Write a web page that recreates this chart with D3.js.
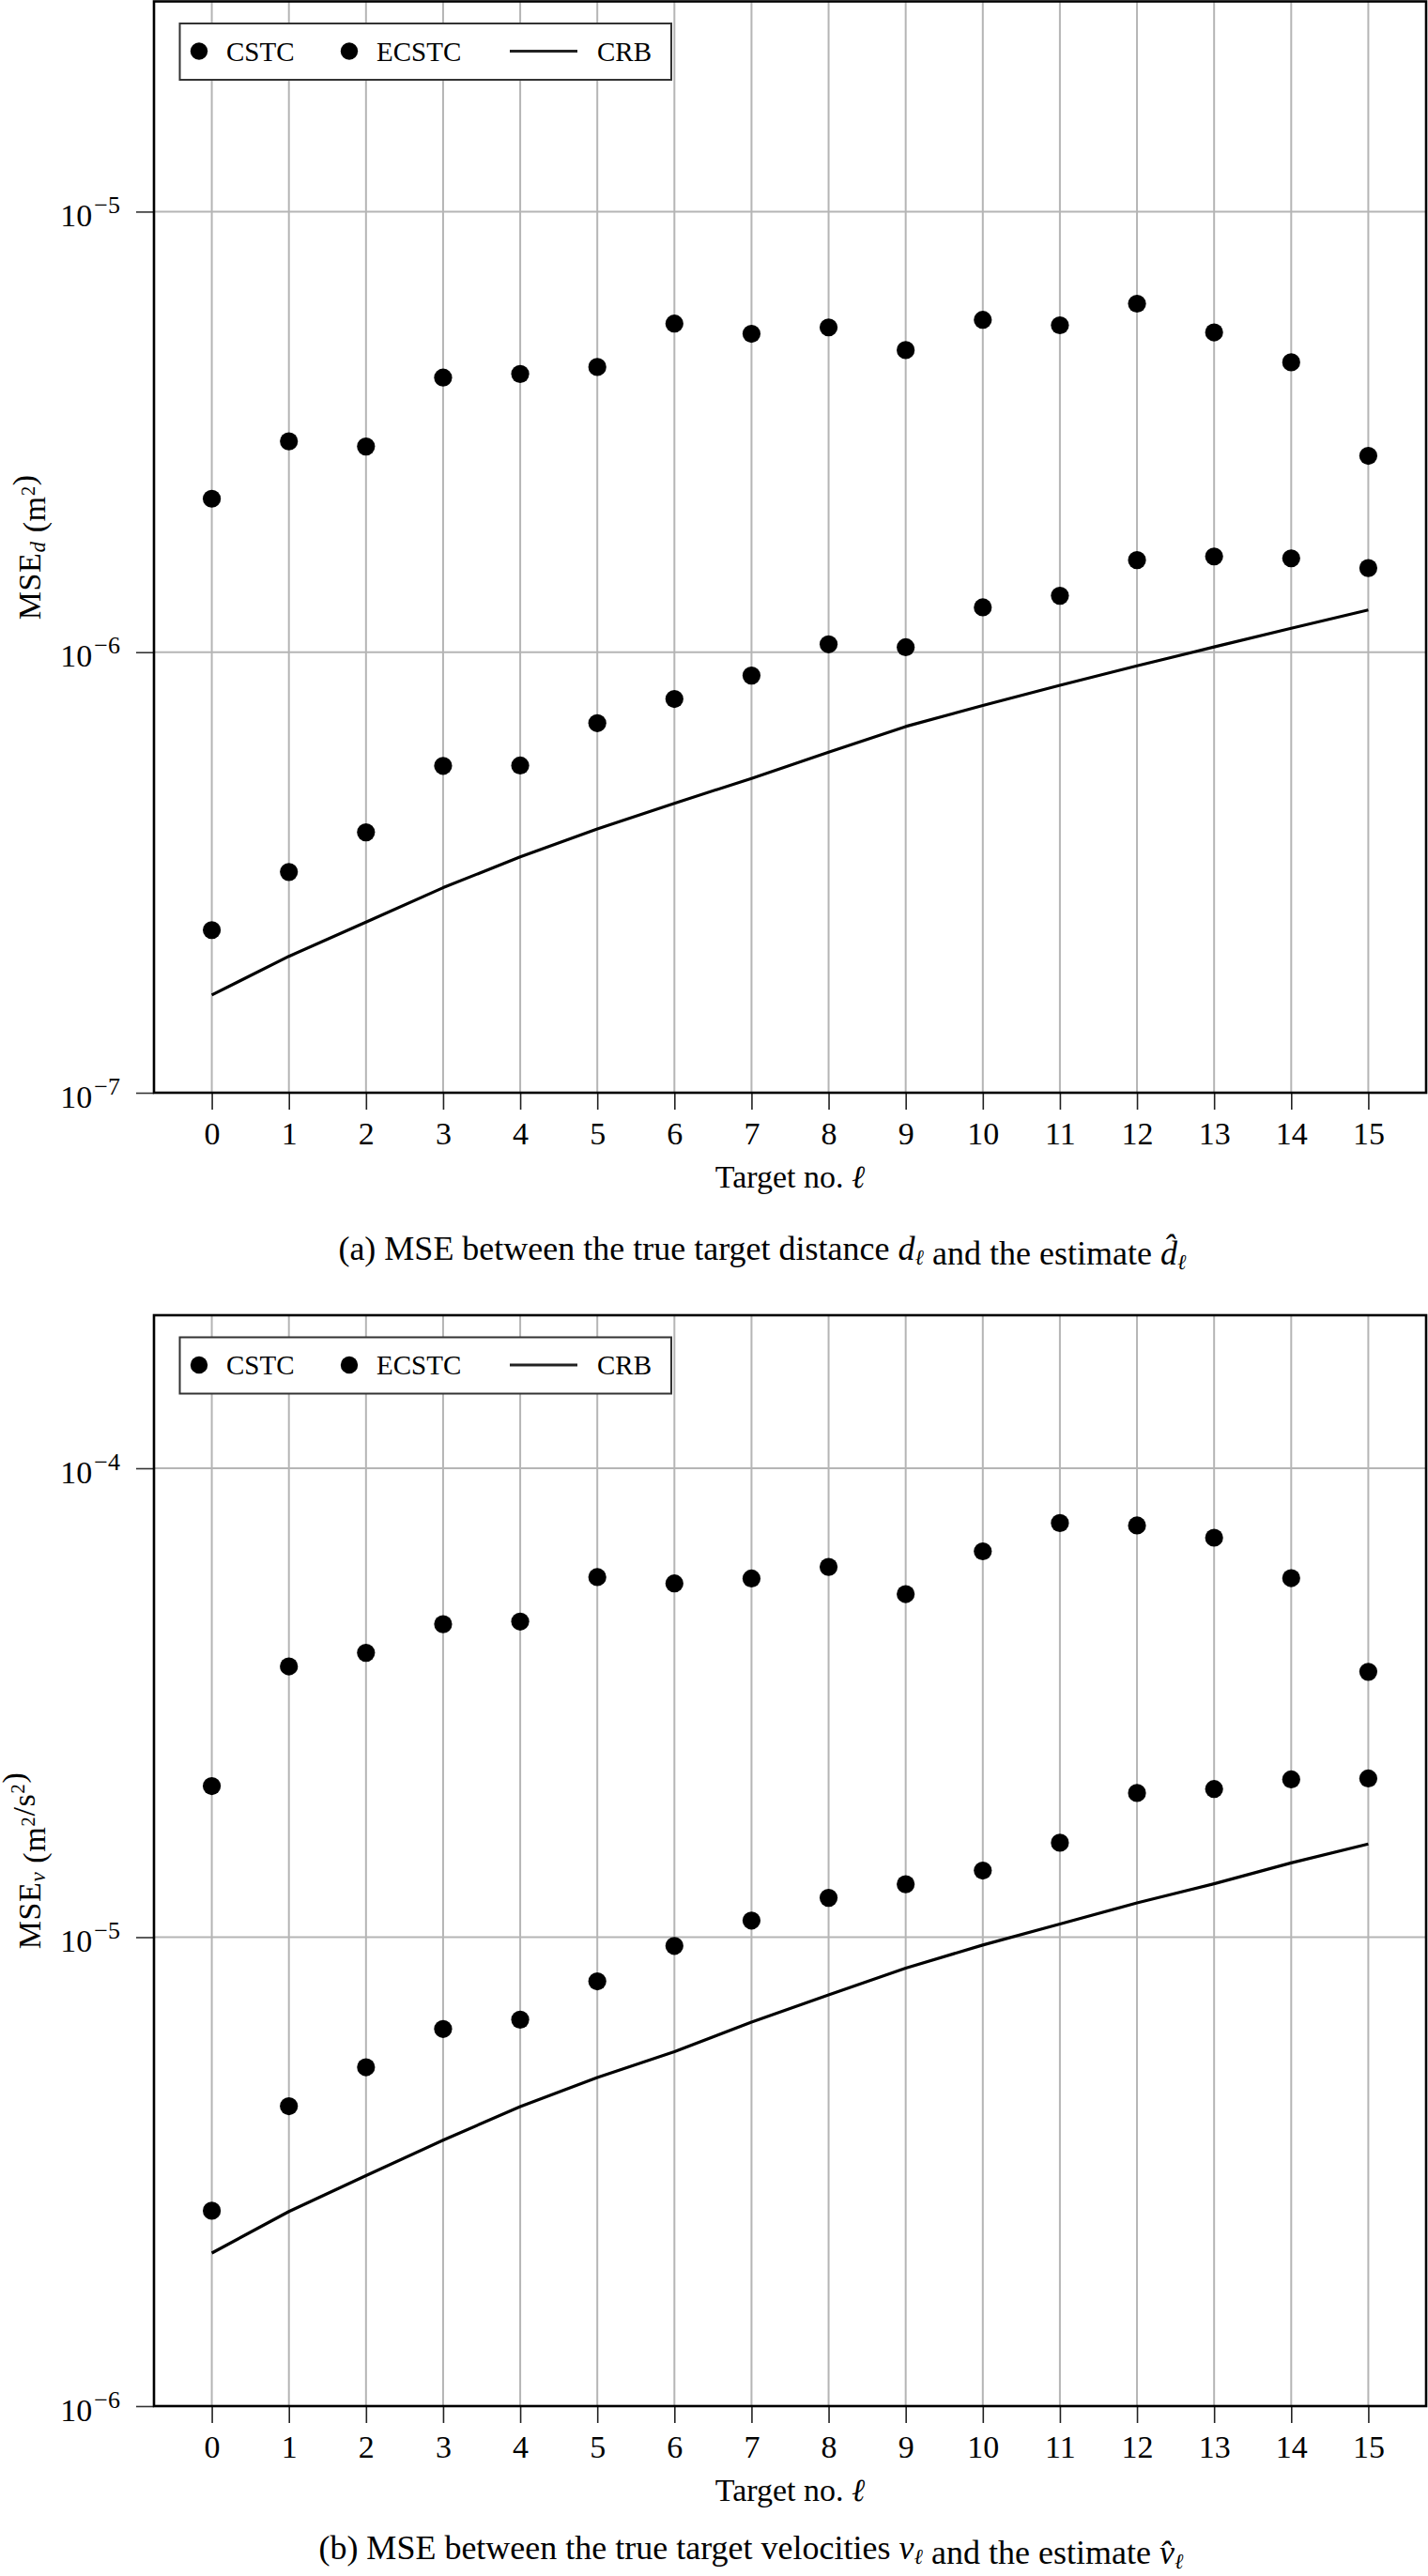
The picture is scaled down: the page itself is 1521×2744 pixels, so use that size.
<!DOCTYPE html>
<html>
<head>
<meta charset="utf-8">
<script src="https://cdn.jsdelivr.net/npm/d3@7"></script>
<style>
  body { margin: 0; background: #fff; }
  svg { display: block; }
  text { font-family: "Liberation Serif", "DejaVu Serif", serif; fill: #000; }
</style>
</head>
<body>
<div id="chart"></div>
<script>
// target indices (x ticks)
const targets = [0, 1, 2, 3, 4, 5, 6, 7, 8, 9, 10, 11, 12, 13, 14, 15];

// (a) distance MSE, m^2
const distCSTC = [2.23e-6, 3.01e-6, 2.93e-6, 4.20e-6, 4.28e-6, 4.44e-6, 5.57e-6, 5.28e-6,
  5.46e-6, 4.85e-6, 5.68e-6, 5.52e-6, 6.18e-6, 5.32e-6, 4.55e-6, 2.79e-6];
const distECSTC = [2.34e-7, 3.17e-7, 3.90e-7, 5.52e-7, 5.53e-7, 6.90e-7, 7.83e-7, 8.85e-7,
  1.042e-6, 1.026e-6, 1.264e-6, 1.343e-6, 1.618e-6, 1.649e-6, 1.633e-6, 1.552e-6];
const distCRB = [1.667e-7, 2.04e-7, 2.44e-7, 2.92e-7, 3.43e-7, 3.97e-7, 4.54e-7, 5.17e-7,
  5.93e-7, 6.78e-7, 7.57e-7, 8.41e-7, 9.31e-7, 1.028e-6, 1.133e-6, 1.247e-6];

// (b) velocity MSE, m^2/s^2
const velCSTC = [2.10e-5, 3.78e-5, 4.04e-5, 4.65e-5, 4.71e-5, 5.86e-5, 5.68e-5, 5.82e-5,
  6.16e-5, 5.39e-5, 6.65e-5, 7.64e-5, 7.55e-5, 7.11e-5, 5.83e-5, 3.68e-5];
const velECSTC = [2.61e-6, 4.36e-6, 5.28e-6, 6.37e-6, 6.67e-6, 8.05e-6, 9.58e-6, 1.085e-5,
  1.213e-5, 1.297e-5, 1.387e-5, 1.59e-5, 2.03e-5, 2.07e-5, 2.17e-5, 2.18e-5];
const velCRB = [2.12e-6, 2.60e-6, 3.10e-6, 3.69e-6, 4.35e-6, 5.02e-6, 5.70e-6, 6.59e-6,
  7.53e-6, 8.59e-6, 9.62e-6, 1.067e-5, 1.183e-5, 1.30e-5, 1.44e-5, 1.58e-5];

const distTicks = [1e-7, 1e-6, 1e-5];
const velTicks = [1e-6, 1e-5, 1e-4];
const legendNames = ["CSTC", "ECSTC", "CRB"];

const width = 1521;
const height = 2744;

const svg = d3.select("#chart")
  .append("svg")
  .attr("width", width)
  .attr("height", height);

const left = 164, right = 1519;

const x = d3.scaleLinear()
  .domain([-0.75, 15.75])
  .range([left, right]);

const drawPanel = function (cfg) {
  const top = cfg.top, bottom = cfg.bottom;
  const y = d3.scaleLog().domain(cfg.yDomain).range([bottom, top]);
  const g = svg.append("g");

  // grid
  g.selectAll(".vgrid")
    .data(targets)
    .enter()
    .append("line")
    .attr("x1", d => x(d)).attr("x2", d => x(d))
    .attr("y1", top).attr("y2", bottom)
    .attr("stroke", "#b5b5b5")
    .attr("stroke-width", 2);
  g.selectAll(".hgrid")
    .data(cfg.yTicks)
    .enter()
    .append("line")
    .attr("x1", left).attr("x2", right)
    .attr("y1", d => y(d)).attr("y2", d => y(d))
    .attr("stroke", "#b5b5b5")
    .attr("stroke-width", 2);

  // x axis ticks + labels
  const xAxis = g.append("g")
    .attr("transform", `translate(0,${bottom})`)
    .call(d3.axisBottom(x).tickValues(targets).tickSize(18).tickFormat(d3.format("d")));
  xAxis.select(".domain").remove();
  xAxis.selectAll("line").attr("stroke", "#222").attr("stroke-width", 1.6);
  xAxis.selectAll("text")
    .attr("y", 55).attr("dy", null)
    .style("font-size", "34px")
    .style("font-family", "'Liberation Serif', serif");

  // y axis ticks, labels as 10^k
  const yAxis = g.append("g")
    .attr("transform", `translate(${left},0)`)
    .call(d3.axisLeft(y).tickValues(cfg.yTicks).tickSize(19).tickFormat(""));
  yAxis.select(".domain").remove();
  yAxis.selectAll("line").attr("stroke", "#333").attr("stroke-width", 1.6);
  yAxis.selectAll(".tick").each(function (d) {
    const t = d3.select(this).append("text")
      .attr("x", -36).attr("y", 15)
      .attr("text-anchor", "end")
      .style("font-size", "34px");
    t.append("tspan").text("10");
    t.append("tspan")
      .attr("dy", -14)
      .attr("dx", 2)
      .style("font-size", "26px")
      .text("\u2212" + Math.round(-Math.log10(d)));
  });

  // frame
  g.append("rect")
    .attr("x", left).attr("y", top)
    .attr("width", right - left).attr("height", bottom - top)
    .attr("fill", "none")
    .attr("stroke", "#000")
    .attr("stroke-width", 2.6);

  // CRB line
  const line = d3.line()
    .x((d, i) => x(targets[i]))
    .y(d => y(d));
  g.append("path")
    .datum(cfg.crb)
    .attr("d", line)
    .attr("fill", "none")
    .attr("stroke", "#000")
    .attr("stroke-width", 3.2)
    .attr("stroke-linejoin", "round");

  // dots
  [cfg.cstc, cfg.ecstc].forEach(series => {
    g.append("g").selectAll("circle")
      .data(series)
      .enter()
      .append("circle")
      .attr("cx", (d, i) => x(targets[i]))
      .attr("cy", d => y(d))
      .attr("r", 9.6)
      .attr("fill", "#000");
  });

  // legend
  const lg = g.append("g").attr("transform", `translate(${left},${top})`);
  lg.append("rect")
    .attr("x", 27.5).attr("y", 23.5)
    .attr("width", 523.5).attr("height", 60)
    .attr("fill", "#fff")
    .attr("stroke", "#333")
    .attr("stroke-width", 2);
  lg.append("circle").attr("cx", 48).attr("cy", 53).attr("r", 9.2).attr("fill", "#000");
  lg.append("circle").attr("cx", 208).attr("cy", 53).attr("r", 9.2).attr("fill", "#000");
  lg.append("line")
    .attr("x1", 379).attr("x2", 451)
    .attr("y1", 53).attr("y2", 53)
    .attr("stroke", "#222").attr("stroke-width", 3.2);
  [77, 237, 472].forEach((px, i) => {
    lg.append("text")
      .attr("x", px).attr("y", 63)
      .style("font-size", "29px")
      .text(legendNames[i]);
  });

  // x label
  const xl = g.append("text")
    .attr("x", (left + right) / 2)
    .attr("y", bottom + 101)
    .attr("text-anchor", "middle")
    .style("font-size", "34px");
  xl.append("tspan").text("Target no. ");
  xl.append("tspan").style("font-style", "italic").text("\u2113");

  // y label
  const yl = g.append("text")
    .attr("transform", `translate(43,${(top + bottom) / 2}) rotate(-90)`)
    .attr("text-anchor", "middle")
    .style("font-size", "34px")
    .style("letter-spacing", "0.6px");
  cfg.ylabel(yl);

  // caption
  const cap = g.append("text")
    .attr("x", cfg.capX)
    .attr("y", cfg.capY)
    .attr("text-anchor", "middle")
    .style("font-size", "36px");
  cfg.caption(cap);
};

const sub = function (t, s, italic) {
  t.append("tspan")
    .attr("dy", 5)
    .style("font-size", "23px")
    .style("font-style", italic ? "italic" : "normal")
    .text(s);
  t.append("tspan").attr("dy", -5).text("");
};

const sup = function (t, s) {
  t.append("tspan")
    .attr("dy", -11)
    .style("font-size", "21px")
    .text(s);
  t.append("tspan").attr("dy", 11).text("");
};

drawPanel({
  top: 1.5, bottom: 1164,
  yDomain: [1e-7, 3.0e-5],
  yTicks: distTicks,
  cstc: distCSTC, ecstc: distECSTC, crb: distCRB,
  ylabel: t => {
    t.append("tspan").text("MSE");
    sub(t, "d", true);
    t.append("tspan").text(" (m");
    sup(t, "2");
    t.append("tspan").text(")");
  },
  capX: 812, capY: 1342,
  caption: t => {
    t.append("tspan").text("(a) MSE between the true target distance ");
    t.append("tspan").style("font-style", "italic").text("d");
    sub(t, "\u2113", true);
    t.append("tspan").text(" and the estimate ");
    t.append("tspan").style("font-style", "italic").text("d\u0302");
    sub(t, "\u2113", true);
  }
});

drawPanel({
  top: 1401, bottom: 2563,
  yDomain: [1e-6, 2.12e-4],
  yTicks: velTicks,
  cstc: velCSTC, ecstc: velECSTC, crb: velCRB,
  ylabel: t => {
    t.append("tspan").text("MSE");
    sub(t, "v", true);
    t.append("tspan").text(" (m");
    sup(t, "2");
    t.append("tspan").text("/s");
    sup(t, "2");
    t.append("tspan").text(")");
  },
  capX: 800, capY: 2726,
  caption: t => {
    t.append("tspan").text("(b) MSE between the true target velocities ");
    t.append("tspan").style("font-style", "italic").text("v");
    sub(t, "\u2113", true);
    t.append("tspan").text(" and the estimate ");
    t.append("tspan").style("font-style", "italic").text("v\u0302");
    sub(t, "\u2113", true);
  }
});
</script>
</body>
</html>
